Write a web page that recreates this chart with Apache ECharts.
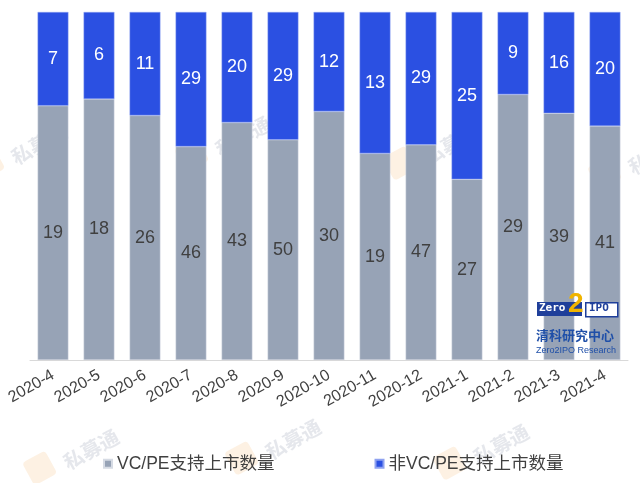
<!DOCTYPE html>
<html><head><meta charset="utf-8">
<script src="https://cdn.jsdelivr.net/npm/echarts@6/dist/echarts.min.js"></script>
<style>html,body{margin:0;padding:0;background:#fff}#c{width:640px;height:483px}</style>
</head><body><div id="c"></div>
<script>
var categories = ['2020-4','2020-5','2020-6','2020-7','2020-8','2020-9','2020-10','2020-11','2020-12','2021-1','2021-2','2021-3','2021-4'];
var vcpe = [19,18,26,46,43,50,30,19,47,27,29,39,41];
var nonVcpe = [7,6,11,29,20,29,12,13,29,25,9,16,20];
var seriesNames = ['VC/PE支持上市数量','非VC/PE支持上市数量'];

var totals = vcpe.map(function(v,i){return v + nonVcpe[i];});
function share(arr){return arr.map(function(v,i){return {value: v/totals[i], raw: v};});}

var chart = echarts.init(document.getElementById('c'));
var font = '"Liberation Sans", Arial, "Noto Sans CJK SC", sans-serif';

var wm = [[8,150],[212,142],[420,150],[625,160],[60,455],[262,445],[470,450]];
var gfx = [];
wm.forEach(function(p){
  gfx.push({type:'rect',x:p[0]-38,y:p[1]+8,rotation:0.5,shape:{width:26,height:26,r:4},
    style:{fill:'rgba(245,180,100,0.18)'},z:1});
  gfx.push({type:'text',x:p[0],y:p[1],rotation:0.5,
    style:{text:'私募通',fill:'rgba(150,160,180,0.25)',font:'bold 20px "Noto Sans CJK SC", sans-serif'},z:1});
});
gfx = gfx.concat([
  {type:'rect',left:537,top:302,shape:{width:45,height:14},style:{fill:'#1f3f9a'},z:100},
  {type:'text',left:539,top:303,style:{text:'Zero',fill:'#fff',font:'bold 11px "DejaVu Sans Mono", monospace'},z:101},
  {type:'rect',left:585,top:302,shape:{width:32,height:14},style:{fill:'#fff',stroke:'#1f3f9a',lineWidth:1.5},z:100},
  {type:'text',left:589,top:303,style:{text:'IPO',fill:'#1f3f9a',font:'bold 11px "DejaVu Sans Mono", monospace'},z:101},
  {type:'text',left:568,top:290,style:{text:'2',fill:'#f0b400',font:'bold 28px "Liberation Sans", sans-serif'},z:102},
  {type:'text',left:536,top:329,style:{text:'清科研究中心',fill:'#1f4fa8',font:'bold 13px "Noto Sans CJK SC", sans-serif'},z:101},
  {type:'text',left:536,top:346,style:{text:'Zero2IPO Research',fill:'#1f4fa8',font:'9px "Liberation Sans", sans-serif'},z:101}
]);

chart.setOption({
  animation:false,
  textStyle:{fontFamily:font},
  grid:{left:30,right:12,top:12,bottom:123},
  xAxis:{type:'category',data:categories,
    axisLine:{lineStyle:{color:'#d9d9d9',width:1}},
    axisTick:{show:false},
    axisLabel:{rotate:30,color:'#404040',fontSize:16,margin:14,interval:0,fontFamily:font}},
  yAxis:{type:'value',min:0,max:1,show:false,splitLine:{show:false}},
  legend:{top:450,left:98,itemGap:100,itemWidth:8,itemHeight:8,icon:'rect',
    textStyle:{color:'#404040',fontSize:17.5,fontFamily:font},data:seriesNames},
  series:[
    {name:seriesNames[0],type:'bar',stack:'a',barWidth:'67%',data:share(vcpe),z:5,
     itemStyle:{color:'#97a3b6',borderColor:'#d6dbe4',borderWidth:0.5},
     label:{show:true,position:'inside',color:'#404040',fontSize:18,fontFamily:font,
       formatter:function(p){return p.data.raw;}}},
    {name:seriesNames[1],type:'bar',stack:'a',barWidth:'67%',data:share(nonVcpe),z:5,
     itemStyle:{color:'#2b50e2',borderColor:'#8fa2f0',borderWidth:0.5},
     label:{show:true,position:'inside',color:'#ffffff',fontSize:18,fontFamily:font,
       formatter:function(p){return p.data.raw;}}}
  ],
  graphic:gfx
});
</script></body></html>
